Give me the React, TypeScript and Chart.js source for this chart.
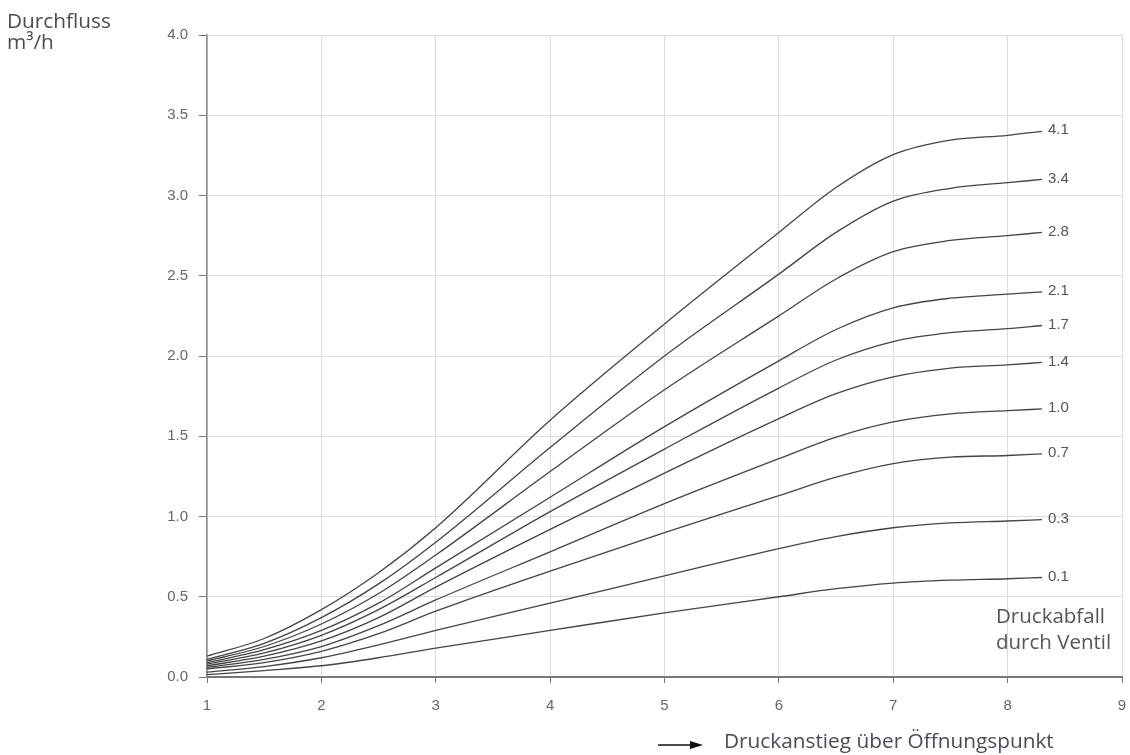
import React, { useEffect, useRef } from "react";
import { Chart, registerables } from "chart.js";

Chart.register(...registerables);

// Druckanstieg über Öffnungspunkt (x)
const pressureRise = [1, 1.5, 2, 2.5, 3, 4, 5, 6, 6.5, 7, 7.5, 8, 8.3];

// Durchfluss m³/h for each Druckabfall durch Ventil
const dp41 = [0.13, 0.24, 0.42, 0.65, 0.93, 1.6, 2.2, 2.77, 3.05, 3.255, 3.345, 3.375, 3.4];
const dp34 = [0.11, 0.21, 0.37, 0.58, 0.84, 1.43, 2.0, 2.51, 2.77, 2.965, 3.045, 3.08, 3.1];
const dp28 = [0.1, 0.19, 0.33, 0.52, 0.76, 1.28, 1.79, 2.25, 2.48, 2.65, 2.72, 2.75, 2.77];
const dp21 = [0.09, 0.17, 0.29, 0.46, 0.68, 1.12, 1.56, 1.97, 2.165, 2.3, 2.36, 2.385, 2.4];
const dp17 = [0.08, 0.15, 0.26, 0.42, 0.62, 1.03, 1.42, 1.8, 1.975, 2.09, 2.145, 2.17, 2.19];
const dp14 = [0.07, 0.13, 0.225, 0.37, 0.56, 0.92, 1.27, 1.61, 1.765, 1.87, 1.925, 1.945, 1.96];
const dp10 = [0.06, 0.11, 0.19, 0.32, 0.48, 0.78, 1.08, 1.36, 1.495, 1.59, 1.64, 1.66, 1.67];
const dp07 = [0.05, 0.09, 0.16, 0.27, 0.41, 0.66, 0.9, 1.13, 1.245, 1.33, 1.37, 1.38, 1.39];
const dp03 = [0.03, 0.065, 0.12, 0.2, 0.29, 0.46, 0.63, 0.8, 0.875, 0.93, 0.96, 0.972, 0.98];
const dp01 = [0.015, 0.04, 0.07, 0.12, 0.18, 0.29, 0.4, 0.5, 0.55, 0.585, 0.603, 0.612, 0.62];

const seriesLabels = ["4.1", "3.4", "2.8", "2.1", "1.7", "1.4", "1.0", "0.7", "0.3", "0.1"];
const seriesValues = [dp41, dp34, dp28, dp21, dp17, dp14, dp10, dp07, dp03, dp01];

const yTitle = ["Durchfluss", "m³/h"];
const legendTitle = ["Druckabfall", "durch Ventil"];
const xTitle = "Druckanstieg über Öffnungspunkt";

const TICK_FONT = "'Liberation Sans', Arial, sans-serif";
const TEXT_FONT = "'Open Sans', sans-serif";

const annotationPlugin = {
  id: "annotations",
  afterDraw(chart: any) {
    const ctx = chart.ctx;
    const xs = chart.scales.x;
    const ys = chart.scales.y;
    ctx.save();
    // curve end labels
    ctx.font = `15px ${TICK_FONT}`;
    ctx.fillStyle = "#555";
    ctx.textAlign = "left";
    ctx.textBaseline = "middle";
    chart.data.datasets.forEach((ds: any) => {
      const last = ds.data[ds.data.length - 1];
      const px = xs.getPixelForValue(last.x);
      const py = ys.getPixelForValue(last.y);
      ctx.fillText(ds.label, px + 6, py - 1);
    });

    // y title
    ctx.font = `20.8px ${TEXT_FONT}`;
    ctx.fillStyle = "#4a4a58";
    ctx.textBaseline = "alphabetic";
    ctx.fillText(yTitle[0], 7, 28);
    ctx.fillText(yTitle[1], 7, 49);

    // legend caption
    ctx.fillStyle = "#555";
    ctx.font = `20.5px ${TEXT_FONT}`;
    ctx.fillText(legendTitle[0], 996, 623);
    ctx.fillText(legendTitle[1], 996, 649);

    // x title with arrow
    ctx.strokeStyle = "#111";
    ctx.fillStyle = "#111";
    ctx.lineWidth = 1.3;
    ctx.beginPath();
    ctx.moveTo(658, 745);
    ctx.lineTo(693, 745);
    ctx.stroke();
    ctx.beginPath();
    ctx.moveTo(703, 745);
    ctx.lineTo(690, 741);
    ctx.lineTo(690, 749);
    ctx.closePath();
    ctx.fill();
    ctx.fillStyle = "#4a4a58";
    ctx.font = `20.8px ${TEXT_FONT}`;
    ctx.fillText(xTitle, 724, 748);
    ctx.restore();
  },
};

export default function App() {
  const canvasRef = useRef<HTMLCanvasElement | null>(null);

  useEffect(() => {
    if (!canvasRef.current) return;
    const datasets = seriesValues.map((vals, i) => ({
      label: seriesLabels[i],
      data: pressureRise.map((x, j) => ({ x, y: vals[j] })),
      borderColor: "#444",
      borderWidth: 1.3,
      pointRadius: 0,
      fill: false,
      cubicInterpolationMode: "monotone" as const,
    }));

    const chart = new Chart(canvasRef.current, {
      type: "line",
      data: { datasets },
      options: {
        animation: false,
        responsive: false,
        layout: { padding: { left: 0, right: 8, top: 35, bottom: 0 } },
        plugins: {
          legend: { display: false },
          tooltip: { enabled: false },
          title: { display: false },
        },
        scales: {
          x: {
            type: "linear",
            min: 1,
            max: 9,
            ticks: {
              stepSize: 1,
              color: "#666",
              font: { family: TICK_FONT, size: 15 },
              padding: 14,
              maxRotation: 0,
            },
            grid: {
              color: "#dcdcdc",
              lineWidth: 1,
              tickLength: 6,
              tickColor: "#777",
            },
            border: { color: "#777", width: 2 },
            afterFit: (scale: any) => {
              scale.height = 78;
              scale.paddingLeft = 0;
              scale.paddingRight = 0;
            },
          },
          y: {
            type: "linear",
            min: 0,
            max: 4,
            ticks: {
              stepSize: 0.5,
              color: "#666",
              font: { family: TICK_FONT, size: 15 },
              padding: 11,
              callback: (v: any) => Number(v).toFixed(1),
            },
            grid: {
              color: "#dcdcdc",
              lineWidth: 1,
              tickLength: 8,
              tickColor: "#777",
            },
            border: { color: "#888", width: 1.5 },
            afterFit: (scale: any) => {
              scale.width = 207;
            },
          },
        },
      },
      plugins: [annotationPlugin],
    });
    return () => chart.destroy();
  }, []);

  return (
    <div style={{ position: "absolute", left: 0, top: 0, width: 1130, height: 755, background: "#fff" }}>
      <canvas ref={canvasRef} width={1130} height={755} style={{ display: "block" }} />
    </div>
  );
}
